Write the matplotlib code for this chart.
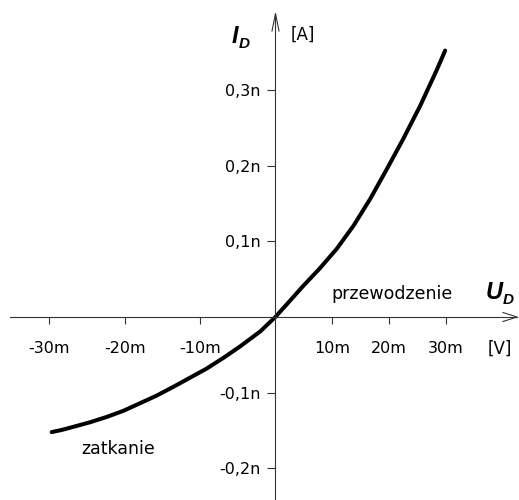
import numpy as np
import matplotlib
matplotlib.use('Agg')
import matplotlib.pyplot as plt
from matplotlib import transforms

# ---- data (U in mV, I in nA) ----
U_mV = [-29.7, -28.3, -26.8, -24.6, -22.4, -20.2, -18.0, -15.8, -13.5, -11.3, -9.1,
        -6.9, -4.7, -2.0, 0.0, 2.4, 4.9, 7.8, 10.8, 13.8, 16.7, 19.6, 22.5, 25.5, 28.4, 29.9]
I_nA = [-0.152, -0.149, -0.145, -0.139, -0.132, -0.124, -0.114, -0.104, -0.092, -0.080, -0.068,
        -0.054, -0.039, -0.019, 0.0, 0.020, 0.041, 0.064, 0.090, 0.121, 0.156, 0.195, 0.235, 0.279, 0.326, 0.352]
x_ticks = [-30, -20, -10, 10, 20, 30]
x_labels = ['-30m', '-20m', '-10m', '10m', '20m', '30m']
y_ticks = [-0.2, -0.1, 0.1, 0.2, 0.3]
y_labels = ['-0,2n', '-0,1n', '0,1n', '0,2n', '0,3n']

W, H = 519, 500
fig = plt.figure(figsize=(W / 100, H / 100), dpi=100)
ax = fig.add_axes([0, 0, 1, 1])

POS = 56.8 / 75.3  # positive voltage side is drawn compressed


def fwd(x):
    x = np.asarray(x, float)
    return np.where(x < 0, x, x * POS)


def inv(t):
    t = np.asarray(t, float)
    return np.where(t < 0, t, t / POS)


ax.set_xscale('function', functions=(fwd, inv))
ax.set_xlim(-36.56, 32.36 / POS)
ax.set_ylim(-0.2417, 0.4188)


def A(x, y):
    return (x / W, 1 - y / H)


def px2data(x, y):
    return ax.transData.inverted().transform(ax.transAxes.transform(A(x, y)))


axc = '#333333'
lw_ax = 0.8
for s in ['top', 'right']:
    ax.spines[s].set_visible(False)
ax.spines['left'].set_position(('data', 0))
ax.spines['bottom'].set_position(('data', 0))
for s in ['left', 'bottom']:
    ax.spines[s].set_color(axc)
    ax.spines[s].set_linewidth(lw_ax)
xl = px2data(10, 0)[0]
xr = px2data(517, 0)[0]
yb = px2data(0, 500)[1]
yt = px2data(0, 13.5)[1]
ax.spines['bottom'].set_bounds(xl, xr)
ax.spines['left'].set_bounds(yb, yt)

ax.set_xticks(x_ticks)
ax.set_yticks(y_ticks)
ax.tick_params(axis='x', direction='out', length=7 * 0.72, width=lw_ax, color=axc, labelbottom=False)
ax.tick_params(axis='y', direction='out', length=8 * 0.72, width=lw_ax, color=axc, labelleft=False)
ax.minorticks_off()

# arrow heads (pixel geometry)
ox, oy = 275.5, 317
ax.plot([A(503, oy - 4.5)[0], A(517, oy)[0], A(503, oy + 4.5)[0]],
        [A(503, oy - 4.5)[1], A(517, oy)[1], A(503, oy + 4.5)[1]],
        transform=ax.transAxes, color=axc, lw=lw_ax, clip_on=False)
ax.plot([A(ox - 3.5, 31)[0], A(ox, 13.5)[0], A(ox + 3.5, 31)[0]],
        [A(ox - 3.5, 31)[1], A(ox, 13.5)[1], A(ox + 3.5, 31)[1]],
        transform=ax.transAxes, color=axc, lw=lw_ax, clip_on=False)

# curve
ax.plot(U_mV, I_nA, color='black', lw=2.9, solid_capstyle='round', solid_joinstyle='round')

# tick labels
tf = 'DejaVu Sans'
bx = transforms.blended_transform_factory(ax.transData, ax.transAxes)
for v, s in zip(x_ticks, x_labels):
    ax.text(v, 1 - 353.3 / H, s, transform=bx, ha='center', va='baseline',
            fontsize=11.5, family=tf, color='black')
by = transforms.blended_transform_factory(ax.transAxes, ax.transData)
by_off = transforms.offset_copy(by, fig=fig, x=0, y=-6.0, units='dots')
for v, s in zip(y_ticks, y_labels):
    ax.text(260.5 / W, v, s, transform=by_off, ha='right', va='baseline',
            fontsize=11.5, family=tf, color='black')

# labels
lf = 'Liberation Sans'
ax.text(*A(231.5, 43), 'I', transform=ax.transAxes, ha='left', va='baseline',
        fontsize=17, family=lf, weight='bold', style='italic')
ax.text(*A(238.5, 47.5), 'D', transform=ax.transAxes, ha='left', va='baseline',
        fontsize=11, family=lf, weight='bold', style='italic')
ax.text(*A(485.5, 299), 'U', transform=ax.transAxes, ha='left', va='baseline',
        fontsize=17, family=lf, weight='bold', style='italic')
ax.text(*A(503, 303.5), 'D', transform=ax.transAxes, ha='left', va='baseline',
        fontsize=11, family=lf, weight='bold', style='italic')
ax.text(*A(291, 40), '[A]', transform=ax.transAxes, ha='left', va='baseline',
        fontsize=12, family=tf)
ax.text(*A(488, 354), '[V]', transform=ax.transAxes, ha='left', va='baseline',
        fontsize=12, family=tf)
ax.text(*A(331, 299), 'przewodzenie', transform=ax.transAxes, ha='left', va='baseline',
        fontsize=12.5, family=tf)
ax.text(*A(81.5, 454.5), 'zatkanie', transform=ax.transAxes, ha='left', va='baseline',
        fontsize=12.5, family=tf)

fig.savefig('out.png', dpi=100)
